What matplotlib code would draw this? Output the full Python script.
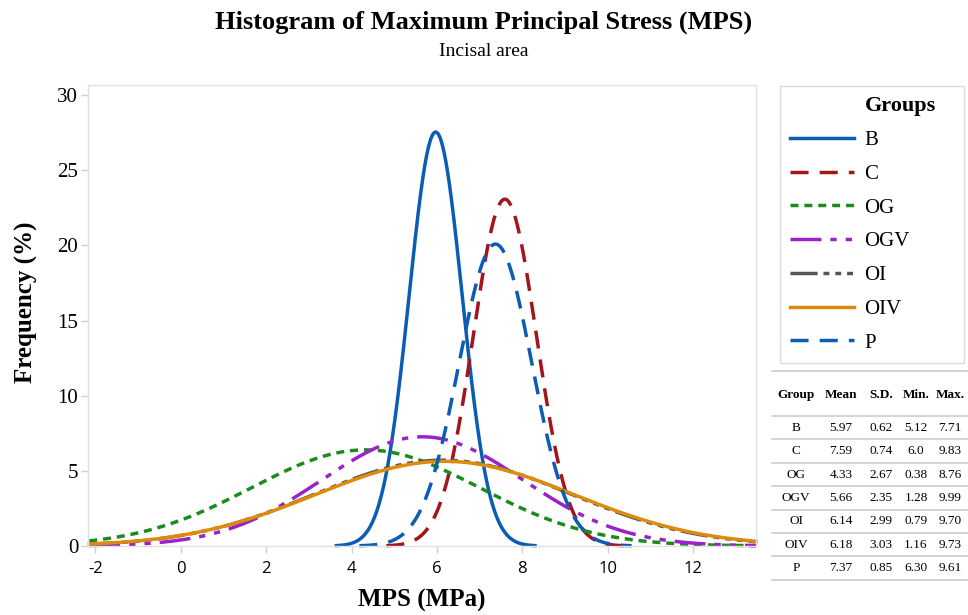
import numpy as np
import matplotlib
matplotlib.use("Agg")
import matplotlib.pyplot as plt
from matplotlib.lines import Line2D

plt.rcParams["axes.unicode_minus"] = False

# Summary statistics per group (from the table in the chart)
groups = ["B", "C", "OG", "OGV", "OI", "OIV", "P"]
means = [5.97, 7.59, 4.33, 5.66, 6.14, 6.18, 7.37]
sds = [0.62, 0.74, 2.67, 2.35, 2.99, 3.03, 0.85]
mins = ["5.12", "6.0", "0.38", "1.28", "0.79", "1.16", "6.30"]
maxs = ["7.71", "9.83", "8.76", "9.99", "9.70", "9.73", "9.61"]
means_txt = ["5.97", "7.59", "4.33", "5.66", "6.14", "6.18", "7.37"]
sds_txt = ["0.62", "0.74", "2.67", "2.35", "2.99", "3.03", "0.85"]

# fitted normal curves are scaled to % per bin
bin_pct = 42.8

colors = ["#0b5cb3", "#a3141c", "#1b8c1b", "#9a22c8", "#555555", "#de8b0c", "#0b5cb3"]
styles = ["-", (0, (5.2, 3.2)), (0, (2.3, 1.7)), (0, (8.9, 2.6, 1.8, 2.6, 1.8, 2.6)),
          (0, (7.8, 1.7, 1.7, 1.7, 1.7, 1.7, 1.7, 1.7)), "-", (0, (5.2, 3.2))]

SERIF = "Liberation Serif"

fig = plt.figure(figsize=(9.68, 6.15), dpi=100)
ax = fig.add_axes([88 / 968, 1 - 546 / 615, (756 - 88) / 968, (546 - 85) / 615])

x_lo, x_hi = -2.17, 13.47
handles = []
for g, m, s, c, ls in zip(groups, means, sds, colors, styles):
    x = np.linspace(max(x_lo + 0.03, m - 3.75 * s), min(x_hi, m + 3.75 * s), 600)
    y = bin_pct * np.exp(-0.5 * ((x - m) / s) ** 2) / (s * np.sqrt(2 * np.pi))
    ln, = ax.plot(x, y, color=c, lw=2.5, linestyle=ls, clip_on=False)
    handles.append(ln)

ax.set_xlim(x_lo, x_hi)
ax.set_ylim(0, 30.67)
ax.set_xticks(np.arange(-2, 13, 2))
ax.set_yticks(np.arange(0, 31, 5))
for sp in ax.spines.values():
    sp.set_color("#e0e0e0")
    sp.set_linewidth(1.0)
ax.tick_params(axis="both", colors="#d0d0d0", length=5, width=1)
ax.tick_params(axis="y", pad=2, labelcolor="black")
ax.tick_params(axis="x", pad=6, labelcolor="black")
for t in ax.get_yticklabels():
    t.set_fontfamily(SERIF)
    t.set_fontsize(15)
for t in ax.get_xticklabels():
    t.set_fontfamily("Open Sans")
    t.set_fontsize(12)

fig.text(484 / 968, 1 - 22 / 615, "Histogram of Maximum Principal Stress (MPS)",
         ha="center", va="center", fontfamily=SERIF, fontweight="bold", fontsize=19)
fig.text(484 / 968, 1 - 51 / 615, "Incisal area", ha="center", va="center",
         fontfamily=SERIF, fontsize=14)
fig.text(26 / 968, 1 - 302 / 615, "Frequency (%)", ha="center", va="center",
         rotation=90, fontfamily=SERIF, fontweight="bold", fontsize=18)
fig.text(422 / 968, 1 - 600 / 615, "MPS (MPa)", ha="center", va="center",
         fontfamily=SERIF, fontweight="bold", fontsize=18)

# legend with a bold heading row aligned to the labels
head = Line2D([], [], color="none")
leg = fig.legend([head] + handles, ["Groups"] + groups, loc="upper left",
                 bbox_to_anchor=(780 / 968, 1 - 365 / 615, 184 / 968, (365 - 86) / 615),
                 bbox_transform=fig.transFigure, mode="expand", borderaxespad=0,
                 fancybox=False, edgecolor="#dddddd", framealpha=1,
                 prop={"family": SERIF, "size": 15}, handlelength=3.07,
                 handletextpad=0.48, borderpad=0.5, labelspacing=0.68)
leg.get_frame().set_linewidth(1.0)
leg.get_texts()[0].set_fontweight("bold")
leg.get_texts()[0].set_fontsize(16)

# summary table
tx = fig.add_axes([768 / 968, 0, 200 / 968, (615 - 368) / 615])
tx.set_xlim(768, 968)
tx.set_ylim(615, 368)
tx.axis("off")
col_x = [796, 841, 881, 916, 950]
headers = ["Group", "Mean", "S.D.", "Min.", "Max."]
for cx, h in zip(col_x, headers):
    tx.text(cx, 395, h, ha="center", va="center", fontfamily=SERIF,
            fontweight="bold", fontsize=9.5, clip_on=False)
row_h = 23.4
line_kw = dict(color="#cccccc", lw=1.2)
tx.plot([772, 968], [371, 371], **line_kw)
tx.plot([772, 968], [416, 416], **line_kw)
for i, row in enumerate(zip(groups, means_txt, sds_txt, mins, maxs)):
    yc = 416 + row_h * (i + 0.5)
    for cx, val in zip(col_x, row):
        tx.text(cx, yc, val, ha="center", va="center", fontfamily=SERIF,
                fontsize=9.5, clip_on=False)
    tx.plot([772, 968], [416 + row_h * (i + 1)] * 2, **line_kw)

fig.savefig("out.png", dpi=100)
